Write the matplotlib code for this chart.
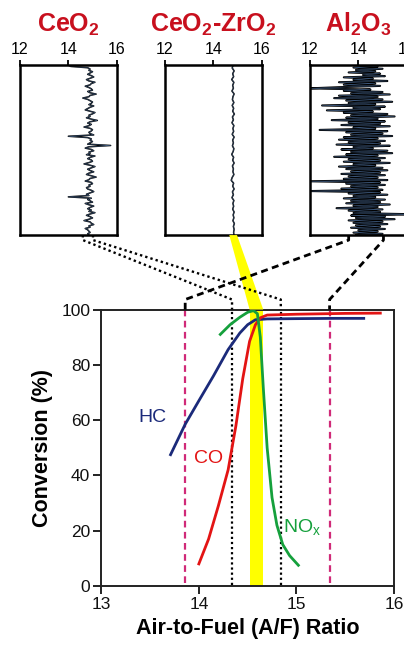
import matplotlib
matplotlib.use("Agg")
import matplotlib.pyplot as plt
from matplotlib.lines import Line2D
from matplotlib.patches import Polygon
import matplotlib.transforms as mtransforms

plt.rcParams['font.family'] = ['Liberation Sans', 'DejaVu Sans']
plt.rcParams['mathtext.fontset'] = 'custom'
plt.rcParams['mathtext.rm'] = 'Liberation Sans'
plt.rcParams['mathtext.bf'] = 'Liberation Sans:bold'

# --- main conversion curves ---
hc_x = [13.71, 13.86, 14.0, 14.15, 14.3, 14.42, 14.5, 14.58, 14.7, 15.0, 15.4, 15.69]
hc_y = [47.5, 58.5, 67, 76, 85.5, 91.5, 94.5, 96.3, 96.6, 96.7, 96.8, 96.8]
co_x = [14.0, 14.1, 14.2, 14.3, 14.38, 14.45, 14.52, 14.58, 14.63, 14.7, 15.0, 15.5, 15.86]
co_y = [8, 17, 29, 42, 58, 75, 88.5, 94.5, 97, 98, 98.3, 98.6, 98.7]
nox_x = [14.22, 14.32, 14.42, 14.5, 14.56, 14.6, 14.63, 14.66, 14.7, 14.75, 14.8, 14.86, 14.93, 15.02]
nox_y = [91, 94.5, 97.2, 99, 99.6, 98.5, 90, 72, 50, 32, 22, 15, 11, 7.5]

window_ceo2 = [14.34, 14.84]     # dotted limits
window_al2o3 = [13.86, 15.34]    # dashed limits
window_czr = [14.52, 14.66]      # yellow band

# --- inset A/F traces (top to bottom in time) ---
ceo2_trace = [
    14.0, 14.1, 14.8, 14.9, 14.85, 15.0, 14.9, 14.8, 14.95, 15.05,
    14.9, 14.75, 14.85, 15.1, 14.95, 14.9, 14.7, 14.85, 14.95, 15.0,
    14.8, 14.9, 15.15, 14.9, 14.85, 14.6, 14.8, 14.9, 15.0, 14.95,
    14.85, 15.05, 14.9, 14.8, 14.7, 14.9, 15.1, 15.0, 14.85, 14.9,
    14.75, 14.95, 15.2, 14.9, 14.8, 14.95, 14.85, 14.65, 14.9, 15.0,
    14.95, 14.85, 14.9, 15.05, 14.0, 14.8, 14.95, 14.9, 15.0, 14.9,
    14.8, 15.75, 14.85, 14.7, 14.95, 15.05, 14.85, 14.9, 14.75, 15.1,
    14.9, 14.8, 14.95, 15.0, 14.85, 14.65, 14.9, 15.1, 14.95, 14.8,
    14.9, 15.05, 14.85, 14.75, 14.95, 15.15, 14.9, 14.85, 14.7, 14.95,
    15.0, 14.85, 14.9, 14.75, 14.8, 14.95, 15.05, 14.9, 14.75, 14.85,
    14.0, 14.95, 14.8, 14.9, 15.0, 14.7, 14.85, 15.05, 14.9, 14.8,
    14.95, 14.85, 15.1, 14.9, 14.75, 14.9, 15.0, 14.85, 14.65, 14.9,
    14.95, 15.05, 14.85, 14.9, 14.7, 14.8, 14.85, 14.9, 14.8, 14.85,
]
czr_trace = [
    14.82, 14.78, 14.86, 14.8, 14.84, 14.76, 14.85, 14.8, 14.83, 14.77,
    14.86, 14.81, 14.79, 14.85, 14.78, 14.84, 14.8, 14.87, 14.79, 14.83,
    14.77, 14.85, 14.81, 14.84, 14.78, 14.86, 14.8, 14.83, 14.79, 14.85,
    14.82, 14.76, 14.84, 14.8, 14.86, 14.79, 14.83, 14.81, 14.85, 14.78,
    14.74, 14.84, 14.8, 14.86, 14.79, 14.83, 14.77, 14.85, 14.81, 14.84,
    14.8, 14.86, 14.82, 14.85, 14.81, 14.87, 14.83, 14.86, 14.84, 14.85,
]
al2o3_trace = [
    14.1, 14.8, 13.8, 15.0, 13.9, 14.7, 13.6, 14.9, 14.2, 15.1,
    13.4, 14.6, 13.8, 15.2, 13.2, 14.7, 13.4, 14.9, 13.3, 12.0,
    14.5, 13.4, 15.0, 13.7, 15.3, 13.2, 14.8, 13.0, 15.0, 13.5,
    15.4, 13.6, 14.7, 12.5, 15.1, 13.8, 14.9, 12.7, 14.6, 13.4,
    15.2, 13.7, 15.5, 13.5, 14.8, 12.9, 15.1, 13.6, 14.9, 13.3,
    15.3, 13.8, 14.7, 12.4, 15.2, 13.5, 15.0, 13.7, 15.4, 13.4,
    14.8, 13.2, 15.1, 13.6, 14.9, 13.1, 15.3, 13.8, 14.6, 13.3,
    15.2, 13.7, 15.4, 13.5, 14.8, 13.0, 15.1, 13.6, 14.9, 13.4,
    15.3, 13.8, 14.7, 13.2, 15.0, 13.5, 15.2, 13.7, 14.9, 13.3,
    15.1, 13.6, 14.8, 13.4, 15.2, 12.0, 14.9, 13.5, 15.1, 13.7,
    14.8, 13.3, 15.0, 12.0, 14.9, 13.6, 15.2, 13.8, 14.7, 13.4,
    15.1, 13.7, 14.9, 13.5, 15.3, 13.8, 14.8, 13.1, 15.0, 13.6,
    14.9, 13.8, 16.3, 13.7, 15.1, 13.9, 15.5, 13.6, 15.0, 13.8,
    15.2, 13.9, 14.9, 13.7, 15.1, 14.0, 14.8, 13.8, 15.0, 13.9,
]
inset_ticks = [12, 14, 16]

fig = plt.figure(figsize=(4.04, 6.53), dpi=100)

# main axes
ax = fig.add_axes([0.2507, 0.1026, 0.7245, 0.4234])
ax.set_xlim(13, 16)
ax.set_ylim(0, 100)
ax.set_xticks([13, 14, 15, 16])
ax.set_yticks([0, 20, 40, 60, 80, 100])
ax.tick_params(direction='out', length=6, width=1.3, labelsize=12.5, colors='#111111', pad=2)
for s in ax.spines.values():
    s.set_linewidth(1.4)
    s.set_color('#222222')
ax.set_xlabel('Air-to-Fuel (A/F) Ratio', fontsize=15.5, fontweight='bold', labelpad=4)
ax.set_ylabel('Conversion (%)', fontsize=15.5, fontweight='bold', labelpad=6)

ax.axvspan(window_czr[0], window_czr[1], color='#ffff00', lw=0, zorder=1)
for xv in window_ceo2:
    ax.plot([xv, xv], [0.5, 100], color='black', lw=1.6, ls=(0, (1, 1.3)), zorder=2)
for xv in window_al2o3:
    ax.plot([xv, xv], [1, 100], color='#d02a78', lw=1.6, ls=(0, (3, 2)), zorder=2)

ax.plot(hc_x, hc_y, color='#1b2a7a', lw=2, zorder=3)
ax.plot(co_x, co_y, color='#e31414', lw=2, zorder=3)
ax.plot(nox_x, nox_y, color='#15a03c', lw=2, zorder=4)
ax.text(13.52, 61, 'HC', color='#1b2a7a', fontsize=14, ha='center', va='center')
ax.text(14.1, 46, 'CO', color='#e31414', fontsize=14, ha='center', va='center')
ax.text(15.06, 21, r'NO$_\mathrm{x}$', color='#15a03c', fontsize=14, ha='center', va='center')

# insets
inset_info = [
    (0.0495, r'CeO$_\mathbf{2}$', ceo2_trace, 1.1),
    (0.4084, r'CeO$_\mathbf{2}$-ZrO$_\mathbf{2}$', czr_trace, 1.1),
    (0.7673, r'Al$_\mathbf{2}$O$_\mathbf{3}$', al2o3_trace, 1.5),
]
insets = []
for left, title, trace, tlw in inset_info:
    ia = fig.add_axes([left, 0.640, 0.2393, 0.2603])
    ia.set_xlim(12, 16)
    ia.set_ylim(len(trace) - 1, 0)
    ia.plot(trace, range(len(trace)), color='black', lw=tlw)
    ia.plot(trace, range(len(trace)), color='#6a9ad8', lw=0.35, alpha=0.6)
    ia.xaxis.tick_top()
    ia.set_xticks(inset_ticks)
    ia.set_yticks([])
    ia.tick_params(axis='x', direction='out', length=3.5, width=1.3, labelsize=11.5, pad=2)
    for s in ia.spines.values():
        s.set_linewidth(1.8)
    ia.text(0.5, 1.194, title, transform=ia.transAxes, ha='center', va='baseline',
            fontsize=18, fontweight='bold', color='#c8101e')
    insets.append(ia)

ax_ceo2, ax_czr, ax_al = insets


def fig_pt(a, x, y, dy=0, axes_y=False):
    tr = mtransforms.blended_transform_factory(a.transData, a.transAxes) if axes_y else a.transData
    px, py = tr.transform((x, y))
    return fig.transFigure.inverted().transform((px, py + dy))


def connector(a_top, x_top, x_main, style, lw):
    pts = [fig_pt(a_top, x_top, 0, axes_y=True),
           fig_pt(a_top, x_top, 0, dy=-5, axes_y=True),
           fig_pt(ax, x_main, 100, dy=10),
           fig_pt(ax, x_main, 100)]
    fig.lines.append(Line2D([p[0] for p in pts], [p[1] for p in pts], transform=fig.transFigure,
                            color='black', lw=lw, ls=style))


# yellow band from CeO2-ZrO2 inset to main chart
band = [fig_pt(ax_czr, 14.66, 0, axes_y=True), fig_pt(ax_czr, 14.98, 0, axes_y=True),
        fig_pt(ax, window_czr[1], 100), fig_pt(ax, window_czr[0], 100)]
fig.patches.append(Polygon(band, closed=True, transform=fig.transFigure,
                           facecolor='#ffff00', edgecolor='none', zorder=0.5))

connector(ax_ceo2, 14.6, window_ceo2[0], (0, (1, 1.3)), 1.7)
connector(ax_ceo2, 15.02, window_ceo2[1], (0, (1, 1.3)), 1.7)
connector(ax_al, 13.6, window_al2o3[0], (0, (2.5, 1.6)), 2.0)
connector(ax_al, 15.04, window_al2o3[1], (0, (2.5, 1.6)), 2.0)

fig.savefig('out.png', dpi=100)
